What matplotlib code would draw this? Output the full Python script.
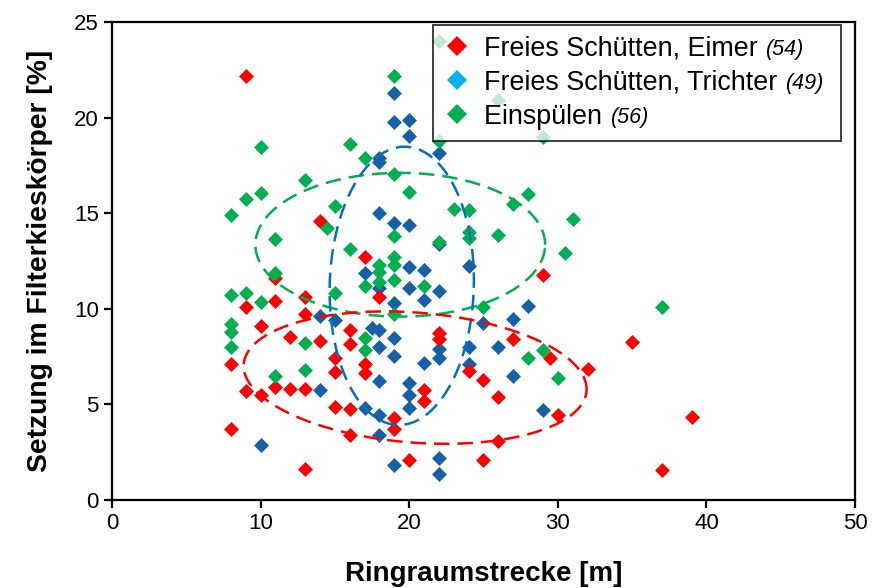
import numpy as np
import matplotlib.pyplot as plt
from matplotlib.lines import Line2D
from matplotlib.text import Text

plt.rcParams['font.family'] = ['Liberation Sans', 'DejaVu Sans']

# Freies Schütten, Eimer
eimer_x = [9, 14, 17, 11, 18, 9, 11, 13, 13, 10, 12, 14, 16, 16, 15, 15, 17, 17, 8, 9,
           10, 11, 12, 13, 15, 16, 16, 8, 13, 19, 19, 21, 21, 22, 22, 24, 25, 26, 26, 20,
           25, 27, 29, 29.5, 30, 32, 35, 39, 37]
eimer_y = [22.2, 14.6, 12.7, 11.6, 10.6, 10.1, 10.4, 10.6, 9.75, 9.1, 8.5, 8.3, 8.9, 8.15, 7.4,
           6.7, 7.1, 6.65, 7.1, 5.7, 5.5, 5.9, 5.8, 5.8, 4.85, 4.75, 3.4, 3.7, 1.6, 4.3,
           3.7, 5.75, 5.2, 8.75, 8.4, 6.75, 6.3, 5.4, 3.1, 2.1, 2.1, 8.4, 11.75, 7.4, 4.45,
           6.85, 8.25, 4.35, 1.55]

# Freies Schütten, Trichter
trichter_x = [19, 19, 20, 20, 18, 18, 22, 18, 19, 20, 20, 21, 20, 21, 22, 19, 24, 18, 25, 27,
              28, 24, 26, 17.5, 18, 18, 19, 19, 17, 15, 14, 14, 10, 18, 20, 20, 20, 21, 22, 22,
              24, 27, 29, 17, 18, 18, 19, 22, 22, 22]
trichter_y = [21.3, 19.75, 19.9, 19.05, 17.9, 17.7, 18.15, 15.0, 14.5, 14.4, 12.2, 12.05, 11.1,
              10.45, 10.95, 10.3, 12.25, 11.1, 9.25, 9.45, 10.15, 8.0, 8.0, 9.0, 8.9, 8.0, 8.45,
              7.55, 11.85, 9.4, 9.6, 5.75, 2.9, 6.2, 6.1, 5.5, 4.8, 7.15, 7.9, 7.4, 7.1, 6.5,
              4.7, 4.8, 4.45, 3.4, 1.85, 2.2, 1.35, 13.4]

# Einspülen
einspuelen_x = [19, 22, 19, 20, 23, 24, 27, 28, 17, 16, 22, 26, 29, 10, 13, 9, 10, 8, 15, 14.5,
                11, 16, 11, 15, 8, 9, 10, 8, 8, 8, 11, 13, 13, 17, 17, 17, 19, 22, 24, 24,
                26, 18, 18, 18, 19, 19, 19, 21, 25, 19, 37, 30.5, 30, 31, 28, 29]
einspuelen_y = [22.2, 24.0, 17.05, 16.1, 15.2, 15.15, 15.5, 16.0, 17.9, 18.6, 18.8, 20.9, 19.0,
                18.45, 16.75, 15.75, 16.05, 14.9, 15.35, 14.2, 13.65, 13.15, 11.85, 10.8, 10.7,
                10.8, 10.35, 9.2, 8.8, 8.0, 6.5, 6.8, 8.2, 11.2, 8.45, 7.85, 13.8, 13.5, 14.0,
                13.7, 13.85, 12.3, 11.9, 11.4, 12.7, 12.3, 11.5, 11.2, 10.1, 9.75, 10.1, 12.9,
                6.4, 14.7, 7.45, 7.85]

labels = ["Freies Schütten, Eimer", "Freies Schütten, Trichter", "Einspülen"]
counts = ["(54)", "(49)", "(56)"]

red = "#ff0000"
blue = "#1560a6"
blue_legend = "#00b0f0"
green = "#00b050"

leg_size = 19.4
count_size = 15.5


def draw_ring(ax, cx, cy, hw, hh, angle, color):
    # dashed ellipse; hw/hh are half axes in data units, angle is turned on screen
    bb = ax.get_window_extent()
    x0, x1 = ax.get_xlim()
    y0, y1 = ax.get_ylim()
    sx = bb.width / (x1 - x0)
    sy = bb.height / (y1 - y0)
    t = np.linspace(0, 2 * np.pi, 400)
    u = hw * sx * np.cos(t)
    v = hh * sy * np.sin(t)
    a = np.deg2rad(angle)
    ur = u * np.cos(a) - v * np.sin(a)
    vr = u * np.sin(a) + v * np.cos(a)
    ax.plot(cx + ur / sx, cy + vr / sy, color=color, lw=1.8,
            linestyle=(0, (6.2, 3.2)), zorder=4)


fig = plt.figure(figsize=(8.83, 5.88), dpi=100)
ax = fig.add_axes([0.1268, 0.1497, 0.8415, 0.8129])
ax.set_xlim(0, 50)
ax.set_ylim(0, 25)

ms = 58
ax.scatter(trichter_x, trichter_y, marker="D", s=ms, color=blue, linewidths=0, zorder=2)
ax.scatter(eimer_x, eimer_y, marker="D", s=ms, color=red, linewidths=0, zorder=2)
ax.scatter(einspuelen_x, einspuelen_y, marker="D", s=ms, color=green, linewidths=0, zorder=2)

draw_ring(ax, 19.4, 13.35, 9.75, 3.76, 0, green)
draw_ring(ax, 19.5, 11.2, 4.85, 7.28, -1.6, "#0070c0")
draw_ring(ax, 20.4, 6.4, 11.57, 3.4, -4.5, red)

ax.set_xticks(range(0, 51, 10))
ax.set_yticks(range(0, 26, 5))
ax.tick_params(labelsize=16, width=1.6, length=6, direction="out")
for s in ax.spines.values():
    s.set_linewidth(1.6)
ax.set_xlabel("Ringraumstrecke [m]", fontsize=20, fontweight="bold", labelpad=19)
ax.set_ylabel("Setzung im Filterkieskörper [%]", fontsize=20.3, fontweight="bold", labelpad=15)

# measure label widths so the italic counts can sit right after them
renderer = fig.canvas.get_renderer()


def text_width(s, **kw):
    t = Text(0, 0, s, figure=fig, **kw)
    return t.get_window_extent(renderer).width * 72 / fig.dpi


gap = 6
pad_w = max(text_width(c, fontsize=count_size, style="italic") for c in counts) + gap
space_w = text_width("a a", fontsize=leg_size) - text_width("aa", fontsize=leg_size)
n_sp = int(np.ceil(pad_w / space_w))
padded = [lab + "\u00a0" * n_sp for lab in labels]

handles = [Line2D([], [], marker="D", linestyle="none", markersize=10.5, color=c, markeredgewidth=0)
           for c in (red, blue_legend, green)]
leg = ax.legend(handles, padded, loc="upper right", bbox_to_anchor=(0.981, 0.994),
                borderaxespad=0, fontsize=leg_size, frameon=True, fancybox=False,
                edgecolor="black", framealpha=0.75, handlelength=1.0,
                handletextpad=0.5, borderpad=0.4, labelspacing=0.3)
leg.get_frame().set_linewidth(1.4)
leg.set_zorder(5)

for txt, lab, n in zip(leg.get_texts(), labels, counts):
    w = text_width(lab, fontsize=leg_size)
    ax.annotate(n, xy=(0, 0), xycoords=txt, xytext=(w + gap, 1), textcoords="offset points",
                ha="left", va="bottom", fontsize=count_size, style="italic", zorder=6)

fig.savefig("out.png", dpi=100)
